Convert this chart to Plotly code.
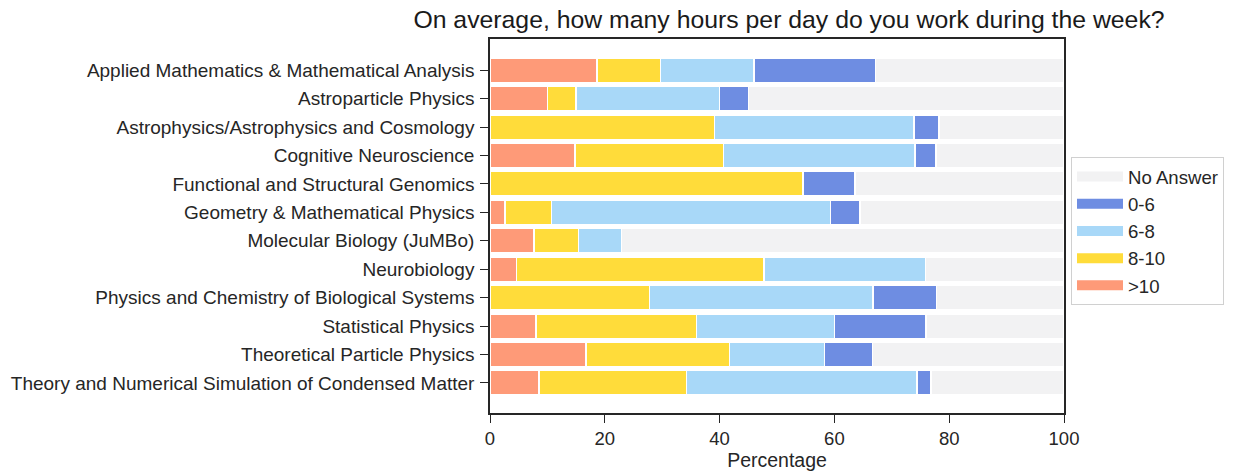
import plotly.graph_objects as go

categories = [
    "Applied Mathematics & Mathematical Analysis",
    "Astroparticle Physics",
    "Astrophysics/Astrophysics and Cosmology",
    "Cognitive Neuroscience",
    "Functional and Structural Genomics",
    "Geometry & Mathematical Physics",
    "Molecular Biology (JuMBo)",
    "Neurobiology",
    "Physics and Chemistry of Biological Systems",
    "Statistical Physics",
    "Theoretical Particle Physics",
    "Theory and Numerical Simulation of Condensed Matter",
]

over10 = [18.6, 10.0, 0.0, 14.8, 0.0, 2.6, 7.7, 4.6, 0.0, 8.0, 16.7, 8.5]
h8_10 = [11.1, 5.0, 39.1, 25.9, 54.5, 8.1, 7.7, 43.1, 27.8, 28.0, 25.0, 25.7]
h6_8 = [16.3, 25.0, 34.8, 33.3, 0.0, 48.6, 7.5, 28.2, 38.9, 24.0, 16.6, 40.2]
h0_6 = [21.2, 5.0, 4.3, 3.7, 9.1, 5.2, 0.0, 0.0, 11.1, 16.0, 8.3, 2.4]
no_answer = [round(100 - a - b - c - d, 1) for a, b, c, d in zip(over10, h8_10, h6_8, h0_6)]

series = [
    (">10", over10, "#FE9A78"),
    ("8-10", h8_10, "#FFDC3A"),
    ("6-8", h6_8, "#A8D8F8"),
    ("0-6", h0_6, "#6E8DE2"),
    ("No Answer", no_answer, "#F2F2F3"),
]

fig = go.Figure()
n = len(series)
for i, (name, vals, col) in enumerate(series):
    fig.add_trace(go.Bar(
        y=categories, x=vals, name=name, orientation="h",
        marker=dict(color=col, line=dict(color="white", width=1.5)),
        width=0.86, legendgroup=name, showlegend=False,
    ))
    # legend entry (wide rectangular swatch)
    fig.add_trace(go.Scatter(
        x=[None], y=[None], mode="lines", name=name, legendgroup=name,
        line=dict(color=col, width=12), legendrank=n - i, hoverinfo="skip",
    ))

font_family = "Liberation Sans, Arial, sans-serif"
fig.update_layout(
    barmode="stack",
    width=1237, height=474,
    margin=dict(l=490, r=173, t=39, b=61, autoexpand=False),
    paper_bgcolor="white", plot_bgcolor="white",
    font=dict(family=font_family, size=19, color="#262626"),
    title=dict(text="On average, how many hours per day do you work during the week?",
               x=789/1237, xanchor="center", y=1 - 19/474, yanchor="middle",
               font=dict(size=24.8, color="#1a1a1a")),
    xaxis=dict(range=[0, 100], tickvals=[0, 20, 40, 60, 80, 100], automargin=False,
               showgrid=False, zeroline=False, showline=True, linecolor="#262626",
               linewidth=1.5, mirror=True, ticks="outside", ticklen=8, tickwidth=1.3,
               tickcolor="#262626", tickfont=dict(size=18.5),
               title=dict(text="Percentage", standoff=2, font=dict(size=19.5))),
    yaxis=dict(categoryorder="array", categoryarray=categories, automargin=False,
               range=[12.06, -1.1], showgrid=False, zeroline=False, showline=True,
               linecolor="#262626", linewidth=1.5, mirror=True,
               ticks="outside", ticklen=8, tickwidth=1.3, tickcolor="#262626",
               tickfont=dict(size=19), ticklabelstandoff=2),
    legend=dict(x=(1071 - 490) / 574, xanchor="left", y=(413 - 157) / 374, yanchor="top",
                traceorder="grouped", tracegroupgap=0, itemwidth=46,
                bordercolor="#d0d0d0", borderwidth=1, bgcolor="white",
                font=dict(size=18.6, color="#262626")),
)

fig.write_html("out.html", config={"displayModeBar": False},
               post_script="document.body.style.margin='0';")
